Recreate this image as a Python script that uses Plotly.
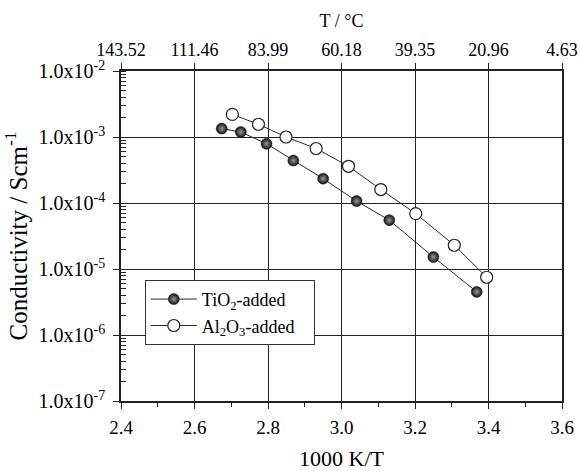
import plotly.graph_objects as go

# data (x = 1000 K/T, y = conductivity S/cm)
tio2_x = [2.674, 2.726, 2.796, 2.869, 2.950, 3.041, 3.130, 3.250, 3.368]
tio2_y = [1.34e-3, 1.19e-3, 7.9e-4, 4.4e-4, 2.34e-4, 1.07e-4, 5.5e-5, 1.52e-5, 4.5e-6]
al2o3_x = [2.703, 2.774, 2.849, 2.931, 3.019, 3.107, 3.202, 3.307, 3.395]
al2o3_y = [2.2e-3, 1.56e-3, 1.0e-3, 6.7e-4, 3.6e-4, 1.6e-4, 6.9e-5, 2.29e-5, 7.5e-6]

x_ticks = [2.4, 2.6, 2.8, 3.0, 3.2, 3.4, 3.6]
x_ticktext = ["2.4", "2.6", "2.8", "3.0", "3.2", "3.4", "3.6"]
top_ticktext = ["143.52", "111.46", "83.99", "60.18", "39.35", "20.96", "4.63"]
y_ticks = [1e-2, 1e-3, 1e-4, 1e-5, 1e-6, 1e-7]
y_ticktext = ["1.0x10<sup>-2</sup>", "1.0x10<sup>-3</sup>", "1.0x10<sup>-4</sup>",
              "1.0x10<sup>-5</sup>", "1.0x10<sup>-6</sup>", "1.0x10<sup>-7</sup>"]

FONT = "Liberation Serif"

fig = go.Figure()
fig.add_trace(go.Scatter(
    x=tio2_x, y=tio2_y, mode="lines+markers", name="TiO<sub>2</sub>-added&nbsp;&nbsp;&nbsp;",
    line=dict(color="#2a2a2a", width=1),
    marker=dict(size=11, color="#111111", line=dict(color="#111111", width=0.5),
                gradient=dict(type="radial", color="#9a9a9a")),
))
fig.add_trace(go.Scatter(
    x=al2o3_x, y=al2o3_y, mode="lines+markers", name="Al<sub>2</sub>O<sub>3</sub>-added&nbsp;&nbsp;&nbsp;",
    line=dict(color="#2a2a2a", width=1),
    marker=dict(size=12, color="white", line=dict(color="#222222", width=1.2)),
))
# invisible trace to activate the top axis
fig.add_trace(go.Scatter(x=[x_ticks[0], x_ticks[-1]], y=[None, None], xaxis="x2",
                         showlegend=False, hoverinfo="skip"))

fig.update_layout(
    width=580, height=471,
    margin=dict(l=121, r=18, t=71, b=70),
    paper_bgcolor="white", plot_bgcolor="white",
    font=dict(family=FONT, size=18, color="black"),
    showlegend=True,
    legend=dict(x=0.054, y=0.367, xanchor="left", yanchor="top",
                bordercolor="#333333", borderwidth=1, bgcolor="white",
                font=dict(family=FONT, size=18), tracegroupgap=0,
                itemwidth=46),
    xaxis=dict(range=[2.4, 3.6], tickvals=x_ticks, ticktext=x_ticktext,
               automargin=False,
               showgrid=True, gridcolor="#222222", gridwidth=1,
               showline=True, linecolor="#222222", linewidth=1.5,
               ticks="outside", ticklen=6, tickcolor="#222222",
               tickfont=dict(size=19),
               minor=dict(dtick=0.1, tick0=2.4, ticks="outside", ticklen=4,
                          tickcolor="#222222", showgrid=False),
               title=dict(text="1000 K/T", font=dict(size=22), standoff=18),
               ticklabelstandoff=2,
               zeroline=False),
    xaxis2=dict(range=[2.4, 3.6], overlaying="x", side="top",
                automargin=False,
                tickvals=x_ticks, ticktext=top_ticktext,
                showgrid=False, showline=True, linecolor="#222222", linewidth=1.5,
                ticks="outside", ticklen=6, tickcolor="#222222",
                tickfont=dict(size=18),
                title=dict(text="T / °C", font=dict(size=18), standoff=8),
                zeroline=False),
    yaxis=dict(type="log", range=[-7, -2], tickvals=y_ticks, ticktext=y_ticktext,
               automargin=False,
               showgrid=True, gridcolor="#222222", gridwidth=1,
               showline=True, linecolor="#222222", linewidth=1.5, mirror=True,
               ticks="outside", ticklen=6, tickcolor="#222222",
               tickfont=dict(size=20),
               minor=dict(dtick="D1", ticks="inside", ticklen=5,
                          tickcolor="#222222", showgrid=False),
               title=dict(text="Conductivity / Scm<sup>-1</sup>", font=dict(size=25), standoff=4),
               ticklabelstandoff=4,
               zeroline=False),
)

fig.write_html("out.html")
